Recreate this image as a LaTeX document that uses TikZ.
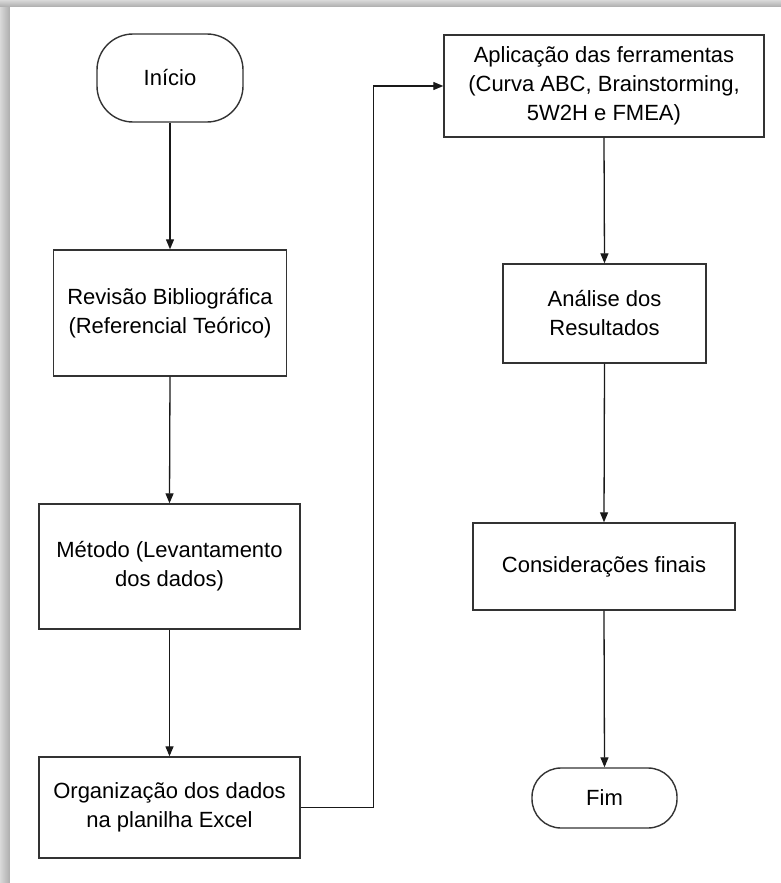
\documentclass[tikz,border=0pt]{standalone}
\usepackage{fontspec}
\setmainfont{Liberation Sans}
\usetikzlibrary{arrows.meta}
\begin{document}
\begin{tikzpicture}[x=1pt,y=-1pt,
  box/.style={draw=black!80, line width=1.4pt, fill=white, align=center, inner sep=0pt,
              font=\fontsize{22}{29}\selectfont, text=black},
  term/.style={box, rounded corners=36pt},
  conn/.style={draw=black!90, line width=1.3pt, -{Triangle[length=10pt,width=8pt]}}]
\useasboundingbox (0,0) rectangle (781,883);
\shade[left color=gray!30, right color=gray!65] (0,0) rectangle (10,883);
\shade[top color=gray!30, bottom color=gray!65] (0,0) rectangle (781,7);
\fill[white] (10,7) rectangle (781,883);

\node[term, minimum width=146pt, minimum height=88pt] (ini) at (170,78) {Início};
\node[box, minimum width=233pt, minimum height=126pt] (rev) at (170,313) {Revisão Bibliográfica\\(Referencial Teórico)};
\node[box, minimum width=261pt, minimum height=125pt] (met) at (169.5,566.5) {Método (Levantamento\\dos dados)};
\node[box, minimum width=261pt, minimum height=101pt] (org) at (169.5,807.5) {Organização dos dados\\na planilha Excel};
\node[box, minimum width=320pt, minimum height=102pt] (apl) at (604,86) {Aplicação das ferramentas\\(Curva ABC, Brainstorming,\\5W2H e FMEA)};
\node[box, minimum width=203pt, minimum height=99pt] (ana) at (604.5,313.5) {Análise dos\\Resultados};
\node[box, minimum width=262pt, minimum height=87pt] (con) at (604,566.5) {Considerações finais};
\node[term, rounded corners=29pt, minimum width=145pt, minimum height=60pt] (fim) at (604.5,798) {Fim};

\draw[conn] (ini.south) -- (rev.north);
\draw[conn] (rev.south) -- (met.north);
\draw[conn] (met.south) -- (org.north);
\draw[conn] (org.east) -- ++(73,0) |- (apl.west);
\draw[conn] (apl.south) -- (ana.north);
\draw[conn] (ana.south) -- (con.north);
\draw[conn] (con.south) -- (fim.north);
\end{tikzpicture}
\end{document}
